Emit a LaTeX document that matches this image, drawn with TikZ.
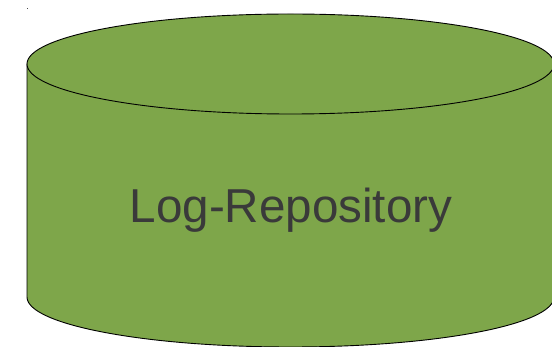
\documentclass[tikz,border=0pt]{standalone}
\usepackage{fontspec}
\setmainfont{Liberation Sans}
\definecolor{dbgreen}{HTML}{7EA64A}
\definecolor{dbtext}{HTML}{3A3A3A}
\tikzset{
  dbbody/.style={fill=dbgreen, draw=black, line width=0.9pt},
  dblabel/.style={text=dbtext, font=\fontsize{47.6}{57}\selectfont, inner sep=0pt, anchor=base}
}
\begin{document}
\begin{tikzpicture}[x=1pt, y=-1pt]
  \useasboundingbox (0,0) rectangle (552,347);
  \clip (0,0) rectangle (552,347);
  % stray mark near the top-left corner
  \fill[black!70] (26.5,8.5) rectangle (27.5,9.5);
  % cylinder body: sides and bottom half of the lower ellipse
  \draw[dbbody] (27,64) -- (27,297)
    arc[start angle=180, end angle=0, x radius=263.5, y radius=50]
    -- (554,64) -- cycle;
  % top face
  \draw[dbbody] (290.5,64) ellipse[x radius=263.5, y radius=50];
  % label
  \node[dblabel] (lbl) at (291,223) {Log-Repository};
\end{tikzpicture}
\end{document}
